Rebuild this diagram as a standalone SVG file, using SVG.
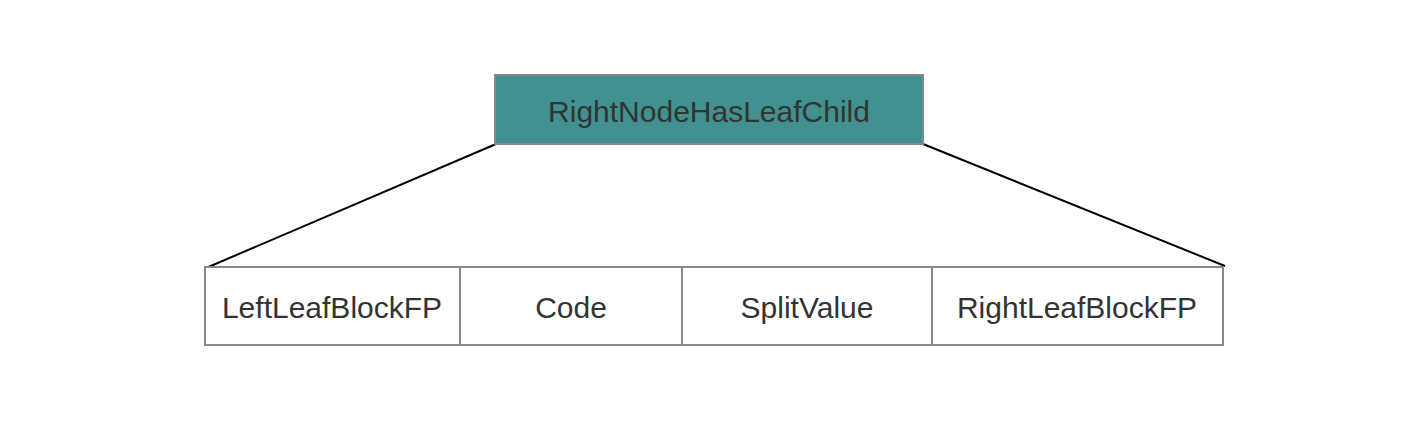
<svg xmlns="http://www.w3.org/2000/svg" width="1418" height="426" viewBox="0 0 1418 426">
<style>
.box{stroke:#888888;stroke-width:2}
.lbl{font-family:"Liberation Sans",Arial,sans-serif;font-size:30px;fill:#333333;text-anchor:middle}
.conn{stroke:#000000;stroke-width:2;fill:none}
</style>
<rect width="1418" height="426" fill="#ffffff"/>
<g id="connectors">
<line class="conn" x1="496" y1="144" x2="206" y2="268"/>
<line class="conn" x1="923" y1="144" x2="1225" y2="266"/>
</g>
<g id="root">
<rect class="box" x="495" y="75" width="428" height="69" fill="#40918F"/>
<text class="lbl" x="709" y="122">RightNodeHasLeafChild</text>
</g>
<g id="field-left">
<rect class="box" x="205" y="267" width="255" height="78" fill="#ffffff"/>
<text class="lbl" x="332" y="318">LeftLeafBlockFP</text>
</g>
<g id="field-code">
<rect class="box" x="460" y="267" width="222" height="78" fill="#ffffff"/>
<text class="lbl" x="571" y="318">Code</text>
</g>
<g id="field-split">
<rect class="box" x="682" y="267" width="250" height="78" fill="#ffffff"/>
<text class="lbl" x="807" y="318">SplitValue</text>
</g>
<g id="field-right">
<rect class="box" x="932" y="267" width="291" height="78" fill="#ffffff"/>
<text class="lbl" x="1077" y="318">RightLeafBlockFP</text>
</g>
</svg>
